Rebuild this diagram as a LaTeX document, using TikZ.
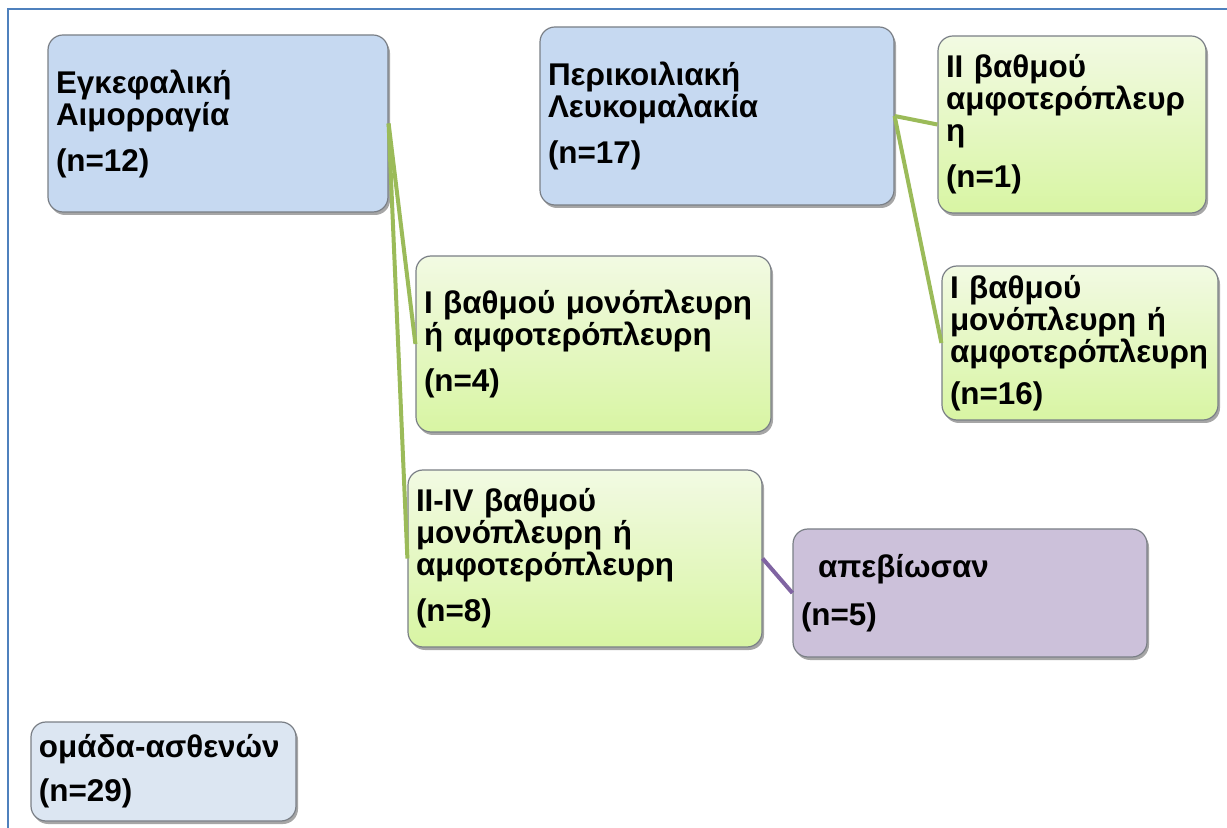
\documentclass[tikz,border=0pt]{standalone}
\usepackage{fontspec}
\setmainfont{Liberation Sans}
\usetikzlibrary{shadows}
\definecolor{frameblue}{HTML}{4F81BD}
\definecolor{boxline}{HTML}{7A7F86}
\definecolor{bluefill}{HTML}{C6D9F1}
\definecolor{palefill}{HTML}{DCE6F2}
\definecolor{purplefill}{HTML}{CCC1DA}
\definecolor{greentop}{HTML}{F2FAE3}
\definecolor{greenbot}{HTML}{D8F5A3}
\definecolor{greenline}{HTML}{9BBB59}
\definecolor{purpleline}{HTML}{8064A2}
\tikzset{
  box/.style={draw=boxline, line width=0.6pt, rounded corners=7.5pt, align=left,
    inner xsep=4pt, inner ysep=0pt,
    font=\fontsize{15.7pt}{16pt}\selectfont\bfseries,
    drop shadow={shadow xshift=1pt, shadow yshift=-1.5pt, opacity=0.35, fill=black}},
  bluebox/.style={box, fill=bluefill},
  palebox/.style={box, fill=palefill},
  purplebox/.style={box, fill=purplefill},
  greenbox/.style={box, top color=greentop, bottom color=greenbot},
  gline/.style={draw=greenline, line width=2pt},
  pline/.style={draw=purpleline, line width=2pt},
  frameline/.style={draw=frameblue, line width=0.8pt}
}
\begin{document}
\begin{tikzpicture}[x=0.5pt,y=-0.5pt]
\useasboundingbox (0,0) rectangle (1227,828);
\draw[frameline] (8,828) -- (8,9) -- (1227,9);

\node[bluebox, minimum width=170pt, minimum height=88.5pt, text width=162pt] (a) at (218,123.5)
  {Εγκεφαλική\\Αιμορραγία\\[7pt](n=12)};
\node[bluebox, minimum width=177pt, minimum height=89pt, text width=169pt] (b) at (717,116)
  {Περικοιλιακή\\Λευκομαλακία\\[7pt](n=17)};
\node[greenbox, minimum width=134pt, minimum height=88.5pt, text width=126pt] (c) at (1072,124.5)
  {II βαθμού\\αμφοτερόπλευρ\\η\\[7pt](n=1)};
\node[greenbox, minimum width=138pt, minimum height=77pt, text width=130pt] (d) at (1080,343)
  {I βαθμού\\μονόπλευρη ή\\αμφοτερόπλευρη\\[5pt](n=16)};
\node[greenbox, minimum width=177.5pt, minimum height=88pt, text width=169.5pt] (e) at (593.5,344)
  {I βαθμού μονόπλευρη\\ή αμφοτερόπλευρη\\[7pt](n=4)};
\node[greenbox, minimum width=177pt, minimum height=88.5pt, text width=169pt] (f) at (585,558.5)
  {II-IV βαθμού\\μονόπλευρη ή\\αμφοτερόπλευρη\\[7pt](n=8)};
\node[purplebox, minimum width=177pt, minimum height=64pt, text width=169pt] (g) at (970,593)
  {\hspace*{8.5pt}απεβίωσαν\\[8pt](n=5)};
\node[palebox, minimum width=132.5pt, minimum height=49.5pt, text width=124.5pt] (h) at (163.5,771.5)
  {ομάδα-ασθενών\\[6pt](n=29)};

\draw[gline] (a.east) -- (e.west);
\draw[gline] (a.east) -- (f.west);
\draw[gline] (b.east) -- (c.west);
\draw[gline] (b.east) -- (d.west);
\draw[pline] (f.east) -- (g.west);
\end{tikzpicture}
\end{document}
